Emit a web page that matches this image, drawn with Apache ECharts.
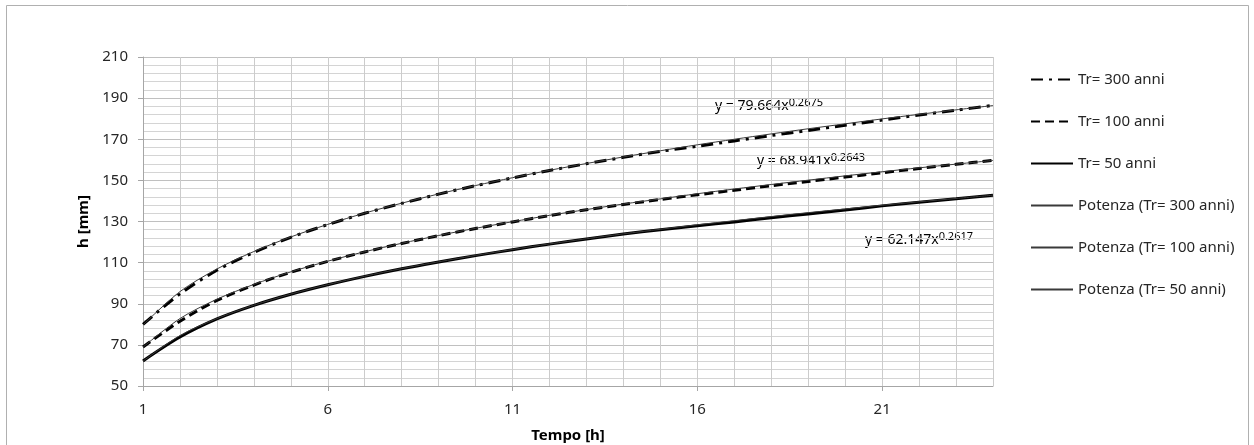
<!DOCTYPE html>
<html>
<head>
<meta charset="utf-8">
<script src="https://cdn.jsdelivr.net/npm/echarts@6/dist/echarts.min.js"></script>
<style>
  html, body { margin: 0; padding: 0; background: #ffffff; }
  #chart { width: 1254px; height: 445px; }
</style>
</head>
<body>
<div id="chart"></div>
<script>
  // ore (categorie asse x)
  const hours = ['1','2','3','4','5','6','7','8','9','10','11','12','13','14','15','16','17','18','19','20','21','22','23','24'];

  // altezze di pioggia [mm]
  const tr300 = [80.0, 94.8, 106.3, 115.0, 122.3, 128.5, 134.0, 138.8, 143.3, 147.4, 151.2, 154.8, 158.1, 161.2, 164.1, 166.6, 169.2, 171.8, 174.3, 176.8, 179.3, 181.8, 184.1, 186.5];
  const tr100 = [69.0, 81.5, 91.6, 99.1, 105.3, 110.6, 115.2, 119.3, 123.1, 126.6, 129.8, 132.9, 135.7, 138.3, 140.7, 143.0, 145.2, 147.4, 149.5, 151.6, 153.7, 155.8, 157.8, 159.8];
  const tr50 = [62.2, 73.8, 82.6, 89.2, 94.6, 99.2, 103.3, 107.0, 110.3, 113.4, 116.3, 119.0, 121.5, 123.9, 126.0, 127.9, 129.8, 131.8, 133.7, 135.6, 137.6, 139.4, 141.1, 142.8];

  // linee di tendenza (potenza)
  const pot300 = [79.7, 95.9, 106.9, 115.4, 122.5, 128.6, 134.1, 138.9, 143.4, 147.5, 151.3, 154.9, 158.2, 161.4, 164.4, 167.3, 170.0, 172.6, 175.1, 177.5, 179.9, 182.1, 184.3, 186.4];
  const pot100 = [68.9, 82.8, 92.2, 99.4, 105.5, 110.7, 115.3, 119.4, 123.2, 126.7, 129.9, 133.0, 135.8, 138.5, 141.0, 143.5, 145.8, 148.0, 150.1, 152.2, 154.2, 156.1, 157.9, 159.7];
  const pot50 = [62.1, 74.5, 82.8, 89.3, 94.7, 99.3, 103.4, 107.1, 110.4, 113.5, 116.4, 119.1, 121.6, 124.0, 126.2, 128.4, 130.4, 132.4, 134.3, 136.1, 137.9, 139.6, 141.2, 142.8];

  const yTicks = { min: 50, max: 210, step: 20 };

  const chart = echarts.init(document.getElementById('chart'));
  const font = 'Noto Sans, sans-serif';

  function eqLabel(x, y, coef, exp) {
    return {
      type: 'text',
      left: x,
      top: y,
      style: {
        text: '{a|y = ' + coef + 'x}{b|' + exp + '}',
        rich: {
          a: { fontFamily: font, fontSize: 14, color: '#262626', lineHeight: 20, verticalAlign: 'bottom' },
          b: { fontFamily: font, fontSize: 11, color: '#262626', lineHeight: 14, verticalAlign: 'top', padding: [4, 0, 0, 0] }
        }
      }
    };
  }

  chart.setOption({
    backgroundColor: '#FFFFFF',
    animation: false,
    grid: {
      left: 143,
      right: 261,
      top: 57,
      bottom: 59,
      outerBoundsMode: 'none'
    },
    legend: {
      orient: 'vertical',
      left: 1025,
      top: 67,
      itemWidth: 42,
      itemHeight: 14,
      itemGap: 27,
      itemStyle: { opacity: 0 },
      textStyle: { fontFamily: font, fontSize: 15, color: '#262626' },
      data: ['Tr= 300 anni', 'Tr= 100 anni', 'Tr= 50 anni',
             'Potenza (Tr= 300 anni)', 'Potenza (Tr= 100 anni)', 'Potenza (Tr= 50 anni)']
    },
    xAxis: {
      type: 'category',
      data: hours,
      boundaryGap: false,
      name: 'Tempo [h]',
      nameLocation: 'middle',
      nameGap: 42,
      nameTextStyle: { fontFamily: font, fontSize: 15, fontWeight: 'bold', color: '#000' },
      axisLine: { lineStyle: { color: '#a6a6a6', width: 1 } },
      axisTick: { show: true, interval: 4, length: 5, lineStyle: { color: '#a6a6a6' } },
      axisLabel: { interval: 4, margin: 16, fontFamily: font, fontSize: 15, color: '#262626' },
      splitLine: { show: true, interval: 0, lineStyle: { color: '#cccccc', width: 1 } }
    },
    yAxis: {
      type: 'value',
      min: yTicks.min,
      max: yTicks.max,
      interval: yTicks.step,
      name: 'h [mm]',
      nameLocation: 'middle',
      nameGap: 49,
      nameTextStyle: { fontFamily: font, fontSize: 15, fontWeight: 'bold', color: '#000' },
      axisLine: { show: true, lineStyle: { color: '#a6a6a6', width: 1 } },
      axisTick: { show: true, length: 5, lineStyle: { color: '#a6a6a6' } },
      axisLabel: { margin: 15, fontFamily: font, fontSize: 15, color: '#262626' },
      splitLine: { show: true, lineStyle: { color: '#c0c0c0', width: 1 } },
      minorTick: { show: false, splitNumber: 5 },
      minorSplitLine: { show: true, lineStyle: { color: '#d4d4d4', width: 1 } }
    },
    series: [
      {
        name: 'Tr= 300 anni', type: 'line', data: tr300, smooth: 0.3,
        symbol: 'none', showSymbol: false,
        lineStyle: { color: '#000', width: 3, type: [12, 6, 3, 6] },
        itemStyle: { color: '#000' }
      },
      {
        name: 'Tr= 100 anni', type: 'line', data: tr100, smooth: 0.3,
        symbol: 'none', showSymbol: false,
        lineStyle: { color: '#000', width: 3, type: [9, 5] },
        itemStyle: { color: '#000' }
      },
      {
        name: 'Tr= 50 anni', type: 'line', data: tr50, smooth: 0.3,
        symbol: 'none', showSymbol: false,
        lineStyle: { color: '#000', width: 3, type: 'solid' },
        itemStyle: { color: '#000' }
      },
      {
        name: 'Potenza (Tr= 300 anni)', type: 'line', data: pot300, smooth: 0.3,
        symbol: 'none', showSymbol: false,
        lineStyle: { color: '#3a3a3a', width: 1 },
        itemStyle: { color: '#3a3a3a' }
      },
      {
        name: 'Potenza (Tr= 100 anni)', type: 'line', data: pot100, smooth: 0.3,
        symbol: 'none', showSymbol: false,
        lineStyle: { color: '#3a3a3a', width: 1 },
        itemStyle: { color: '#3a3a3a' }
      },
      {
        name: 'Potenza (Tr= 50 anni)', type: 'line', data: pot50, smooth: 0.3,
        symbol: 'none', showSymbol: false,
        lineStyle: { color: '#3a3a3a', width: 1 },
        itemStyle: { color: '#3a3a3a' }
      }
    ],
    graphic: [
      {
        type: 'rect',
        shape: { x: 6.5, y: 5.5, width: 1242, height: 460 },
        style: { fill: 'none', stroke: '#b0b0b0', lineWidth: 1 },
        silent: true
      },
      eqLabel(715, 93, '79.664', '0.2675'),
      eqLabel(757, 148, '68.941', '0.2643'),
      eqLabel(865, 227, '62.147', '0.2617')
    ]
  });
</script>
</body>
</html>
